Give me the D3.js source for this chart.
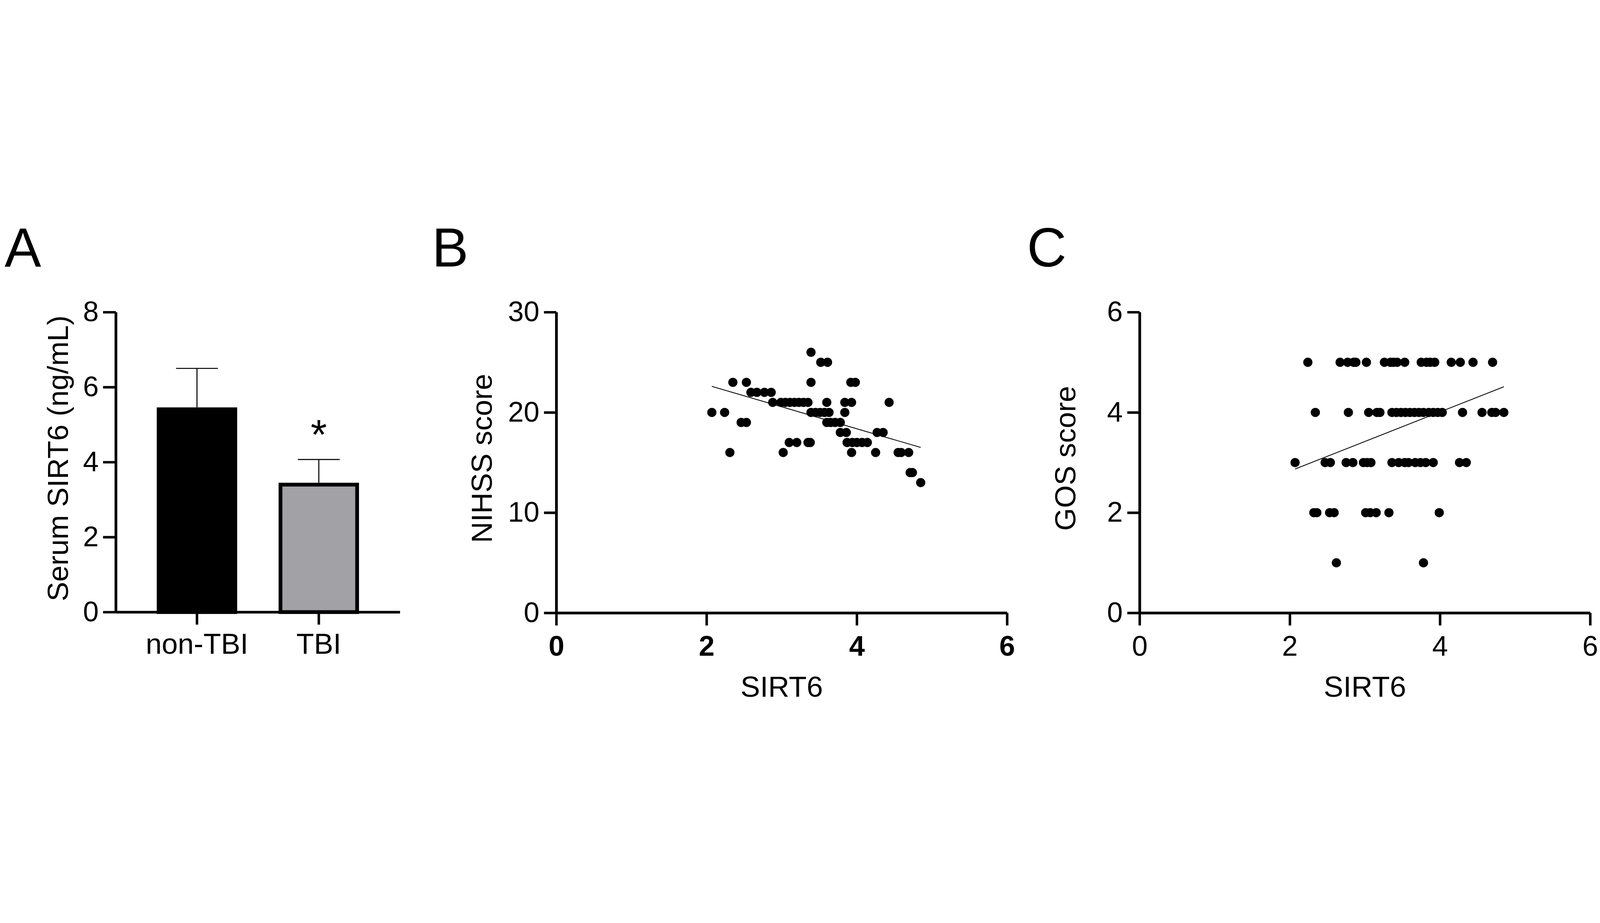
<!DOCTYPE html>
<html lang="en">

<head>
    <meta charset="utf-8">
    <title>SIRT6 panels</title>
    <script src="https://cdn.jsdelivr.net/npm/d3@7"></script>
</head>
<style>
    html,
    body {
        margin: 0;
        padding: 0;
        background: white;
        overflow: hidden;
    }

    svg {
        display: block;
        width: 100vw;
        height: 100vh;
    }

    svg text {
        font-family: "Liberation Sans", Arial, sans-serif;
        fill: black;
    }

    .axis path,
    .axis line {
        stroke: black;
    }
</style>

<body>
    <script>
        // panel A: serum SIRT6 by group (mean, SD)
        var groups = ["non-TBI", "TBI"];
        var meanSirt6 = [5.46, 3.45];
        var sdSirt6 = [1.04, 0.62];
        var yTicksA = [0, 2, 4, 6, 8];

        // panel B: SIRT6 vs NIHSS score
        var sirt6B = [
            3.39,
            3.52, 3.61,
            2.35, 2.53, 3.39, 3.92, 3.98,
            2.59, 2.67, 2.77, 2.86,
            2.88, 2.99, 3.05, 3.11, 3.17, 3.23, 3.29, 3.35, 3.60, 3.84, 3.93, 4.43,
            2.07, 2.24, 3.39, 3.45, 3.51, 3.57, 3.63, 3.84,
            2.46, 2.53, 3.60, 3.65, 3.71, 3.78,
            3.78, 3.86, 4.27, 4.35,
            3.10, 3.20, 3.35, 3.38, 3.87, 3.94, 4.00, 4.07, 4.14,
            2.31, 3.02, 3.93, 4.25, 4.55, 4.59, 4.69,
            4.71, 4.74,
            4.85
        ];
        var nihssB = [
            26,
            25, 25,
            23, 23, 23, 23, 23,
            22, 22, 22, 22,
            21, 21, 21, 21, 21, 21, 21, 21, 21, 21, 21, 21,
            20, 20, 20, 20, 20, 20, 20, 20,
            19, 19, 19, 19, 19, 19,
            18, 18, 18, 18,
            17, 17, 17, 17, 17, 17, 17, 17, 17,
            16, 16, 16, 16, 16, 16, 16,
            14, 14,
            13
        ];
        var fitB = [27.13, -2.19]; // intercept, slope
        var yTicksB = [0, 10, 20, 30];

        // panel C: SIRT6 vs GOS score
        var sirt6C = [
            2.24, 2.67, 2.77, 2.85, 2.88, 3.02, 3.26, 3.34, 3.38, 3.43, 3.53, 3.75, 3.82, 3.87, 3.93, 4.15, 4.27, 4.44, 4.70,
            2.34, 2.78, 3.05, 3.16, 3.20, 3.36, 3.42, 3.48, 3.54, 3.60, 3.66, 3.72, 3.78, 3.85, 3.91, 3.97, 4.03, 4.30, 4.56, 4.69, 4.74, 4.85,
            2.07, 2.47, 2.54, 2.75, 2.84, 2.98, 3.03, 3.08, 3.36, 3.45, 3.53, 3.58, 3.67, 3.74, 3.81, 3.91, 4.26, 4.35,
            2.32, 2.36, 2.53, 2.59, 3.01, 3.07, 3.15, 3.32, 3.99,
            2.62, 3.78
        ];
        var gosC = [
            5, 5, 5, 5, 5, 5, 5, 5, 5, 5, 5, 5, 5, 5, 5, 5, 5, 5, 5,
            4, 4, 4, 4, 4, 4, 4, 4, 4, 4, 4, 4, 4, 4, 4, 4, 4, 4, 4, 4, 4, 4,
            3, 3, 3, 3, 3, 3, 3, 3, 3, 3, 3, 3, 3, 3, 3, 3, 3, 3,
            2, 2, 2, 2, 2, 2, 2, 2, 2,
            1, 1
        ];
        var fitC = [1.65, 0.59];
        var yTicksC = [0, 2, 4, 6];

        var xTicksSirt6 = [0, 2, 4, 6];

        var width = 7653, height = 2362;
        var axisW = 13, tickW = 12;
        var tickFont = 135, titleFont = 140;
        var fmt = d3.format("d");

        // viewBox keeps the whole figure in the window whatever its real size
        var svg = d3.select("body")
            .append("svg")
            .attr("viewBox", [0, 0, width, height])
            .attr("preserveAspectRatio", "xMidYMid meet");

        svg.append("rect").attr("width", width).attr("height", height).attr("fill", "white");

        function styleAxis(g) {
            g.attr("class", "axis");
            g.select(".domain").attr("stroke-width", axisW);
            g.selectAll(".tick line").attr("stroke-width", tickW);
            g.selectAll(".tick text")
                .attr("font-size", tickFont)
                .attr("font-family", '"Liberation Sans", Arial, sans-serif');
        }

        function panelLabel(txt, x) {
            svg.append("text")
                .attr("x", x)
                .attr("y", 248)
                .attr("font-size", 262)
                .text(txt);
        }

        function yTitle(txt, x) {
            svg.append("text")
                .attr("transform", `translate(${x},1166) rotate(-90)`)
                .attr("text-anchor", "middle")
                .attr("font-size", titleFont)
                .text(txt);
        }

        // ---------- A ----------
        var yA = d3.scaleLinear().domain([0, 8]).range([1901, 467]);
        var xA = d3.scaleBand().domain(groups).range([554, 1913])
            .paddingInner(0.34).paddingOuter(0.336);

        var barFill = ["#000000", "#a2a1a6"];
        var barStroke = 18;
        var capW = 200;

        var gA = svg.append("g");

        // error bars (under the bars)
        var err = gA.append("g").attr("stroke", "black").attr("stroke-width", 5);
        groups.forEach((g, i) => {
            var cx = xA(g) + xA.bandwidth() / 2;
            err.append("line")
                .attr("x1", cx).attr("x2", cx)
                .attr("y1", yA(meanSirt6[i])).attr("y2", yA(meanSirt6[i] + sdSirt6[i]));
            err.append("line")
                .attr("x1", cx - capW / 2).attr("x2", cx + capW / 2)
                .attr("y1", yA(meanSirt6[i] + sdSirt6[i])).attr("y2", yA(meanSirt6[i] + sdSirt6[i]));
        });

        gA.append("g")
            .selectAll("rect")
            .data(groups)
            .join("rect")
            .attr("x", d => xA(d) + barStroke / 2)
            .attr("y", (d, i) => yA(meanSirt6[i]) + barStroke / 2)
            .attr("width", xA.bandwidth() - barStroke)
            .attr("height", (d, i) => yA(0) - yA(meanSirt6[i]) - barStroke / 2)
            .attr("fill", (d, i) => barFill[i])
            .attr("stroke", "black")
            .attr("stroke-width", barStroke);

        // significance mark
        gA.append("text")
            .attr("x", xA("TBI") + xA.bandwidth() / 2)
            .attr("y", yA(meanSirt6[1] + sdSirt6[1]) - 50)
            .attr("text-anchor", "middle")
            .attr("font-size", 200)
            .text("*");

        gA.append("g")
            .attr("transform", `translate(${xA.range()[0]},0)`)
            .call(d3.axisLeft(yA).tickValues(yTicksA).tickFormat(fmt)
                .tickSize(61).tickSizeOuter(0).tickPadding(21))
            .call(styleAxis);

        gA.append("g")
            .attr("transform", `translate(0,${yA(0)})`)
            .call(d3.axisBottom(xA).tickSize(60).tickSizeOuter(0).tickPadding(42))
            .call(styleAxis)
            .selectAll(".tick text").attr("font-size", 138);

        yTitle("Serum SIRT6 (ng/mL)", 326);
        panelLabel("A", 22);

        // ---------- scatter panels ----------
        function scatter(opt) {
            var x = d3.scaleLinear().domain([0, 6]).range(opt.xr);
            var y = d3.scaleLinear().domain(opt.ydom).range([1905, 467]);
            var g = svg.append("g");

            g.append("g")
                .selectAll("circle")
                .data(opt.xs)
                .join("circle")
                .attr("cx", d => x(d))
                .attr("cy", (d, i) => y(opt.ys[i]))
                .attr("r", 22)
                .attr("fill", "black");

            var x0 = d3.min(opt.xs), x1 = d3.max(opt.xs);
            var fit = opt.fit;
            g.append("path")
                .datum([x0, x1])
                .attr("fill", "none")
                .attr("stroke", "black")
                .attr("stroke-width", 4)
                .attr("d", d3.line().x(d => x(d)).y(d => y(fit[0] + fit[1] * d)));

            g.append("g")
                .attr("transform", `translate(${opt.xr[0]},0)`)
                .call(d3.axisLeft(y).tickValues(opt.yticks).tickFormat(fmt)
                    .tickSize(59).tickSizeOuter(0).tickPadding(22))
                .call(styleAxis);

            var xa = g.append("g")
                .attr("transform", `translate(0,${y(0)})`)
                .call(d3.axisBottom(x).tickValues(xTicksSirt6).tickFormat(fmt)
                    .tickSize(60).tickSizeOuter(0).tickPadding(48))
                .call(styleAxis);
            if (opt.boldX) xa.selectAll(".tick text").attr("font-weight", "bold");

            g.append("text")
                .attr("x", (opt.xr[0] + opt.xr[1]) / 2)
                .attr("y", 2305)
                .attr("text-anchor", "middle")
                .attr("font-size", titleFont)
                .text("SIRT6");

            yTitle(opt.ytitle, opt.xr[0] - 308);
        }

        scatter({
            xr: [2661, 4817], ydom: [0, 30], xs: sirt6B, ys: nihssB, fit: fitB,
            yticks: yTicksB, ytitle: "NIHSS score", boldX: true
        });
        panelLabel("B", 2066);

        scatter({
            xr: [5451, 7606], ydom: [0, 6], xs: sirt6C, ys: gosC, fit: fitC,
            yticks: yTicksC, ytitle: "GOS score", boldX: false
        });
        panelLabel("C", 4912);
    </script>
</body>

</html>
